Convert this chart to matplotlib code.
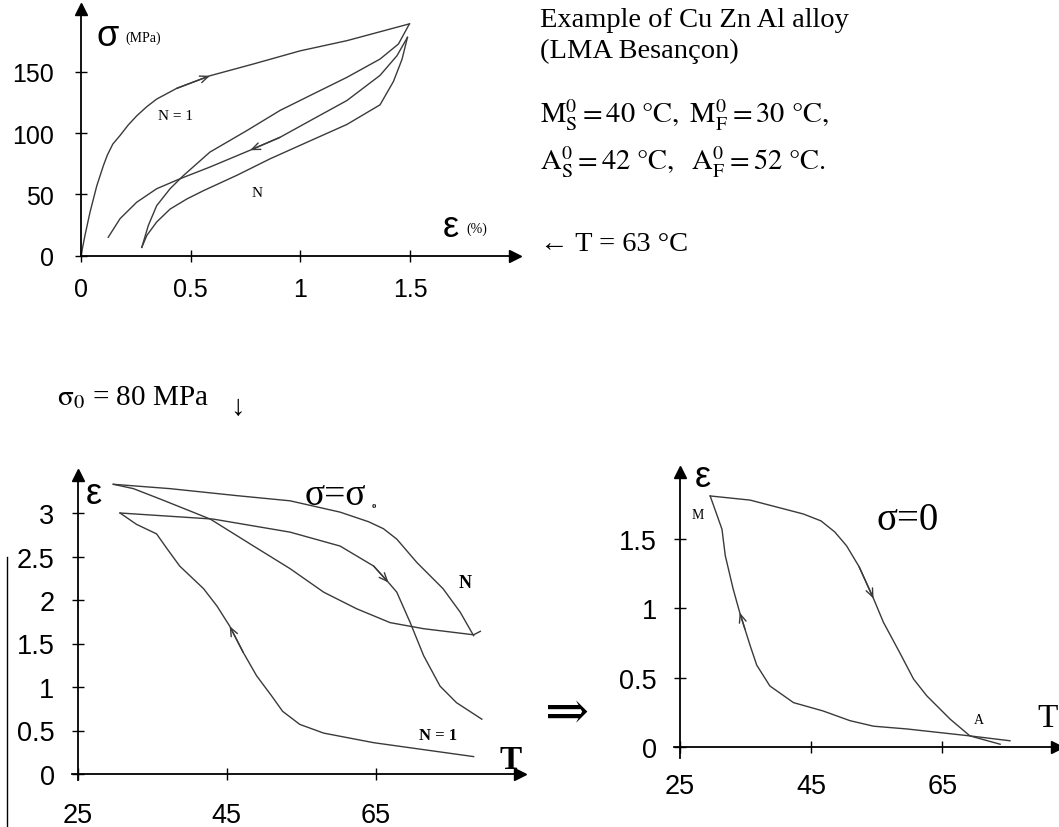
import numpy as np
import matplotlib.pyplot as plt

W, H = 1059, 828
SERIF = ['Liberation Serif', 'DejaVu Serif']
SANS = ['Liberation Sans', 'DejaVu Sans']
plt.rcParams['font.family'] = SANS
plt.rcParams['mathtext.fontset'] = 'stix'

CURVE = '#3a3a3a'

# ---- top chart: sigma (MPa) vs strain (%) at T = 63 C
n1_load_x = [0, 0.018, 0.041, 0.072, 0.102, 0.12, 0.145, 0.178, 0.215, 0.254, 0.3, 0.345, 0.436, 0.588, 0.786, 0.999, 1.212, 1.497]
n1_load_s = [0, 16.5, 35.4, 57, 73.4, 82, 91, 98, 106.5, 114, 121.5, 127.7, 136.4, 146.7, 156.3, 167, 175.3, 189]
n1_unload_x = [1.497, 1.447, 1.363, 1.212, 1.059, 0.907, 0.756, 0.588, 0.466, 0.406, 0.345, 0.307, 0.277]
n1_unload_s = [189, 172.6, 160.3, 145.4, 131.9, 118.4, 102, 84.5, 65.2, 54.6, 40.8, 24.7, 6.8]
n_load_x = [0.277, 0.3, 0.345, 0.406, 0.482, 0.558, 0.71, 0.862, 0.999, 1.212, 1.363, 1.424, 1.463, 1.488]
n_load_s = [6.8, 16.5, 27.5, 38, 46.2, 53, 65.5, 79, 90, 107, 123, 142, 160, 178]
n_unload_x = [1.488, 1.44, 1.363, 1.212, 1.059, 0.907, 0.771, 0.588, 0.451, 0.345, 0.254, 0.178, 0.124]
n_unload_s = [178, 163, 147, 126.5, 111.5, 96.5, 86, 72.3, 62.7, 54.6, 43.6, 30.2, 15]
top_xticks = [0, 0.5, 1, 1.5]
top_xlabels = ['0', '0.5', '1', '1.5']
top_yticks = [0, 50, 100, 150]
top_ylabels = ['0', '50', '100', '150']

# ---- bottom left: strain vs T under sigma = sigma0
bl_n_heat_T = [29.8, 37.4, 46.3, 53.5, 60.2, 64, 66, 67.8, 70.5, 74, 76.3, 78.1]
bl_n_heat_e = [3.33, 3.28, 3.2, 3.14, 3.01, 2.9, 2.82, 2.70, 2.43, 2.13, 1.86, 1.59]
bl_n_cool_T = [79.0, 78.1, 71.4, 66.9, 62.4, 58, 53.5, 48.6, 42.8, 36.1, 32.5, 29.8]
bl_n_cool_e = [1.64, 1.60, 1.67, 1.74, 1.90, 2.09, 2.36, 2.62, 2.93, 3.16, 3.28, 3.33]
bl_1_heat_T = [30.7, 43.2, 53.5, 60.2, 64.7, 66.7, 67.8, 69.6, 71.4, 73.6, 75.8, 79.2]
bl_1_heat_e = [3.0, 2.93, 2.78, 2.62, 2.39, 2.20, 2.09, 1.74, 1.36, 1.01, 0.82, 0.63]
bl_1_cool_T = [78.1, 71.4, 64.7, 58, 54.8, 52.5, 51, 49, 47.2, 45.4, 43.7, 41.9, 38.7, 37, 35.6, 32.9, 30.7]
bl_1_cool_e = [0.2, 0.28, 0.36, 0.47, 0.57, 0.72, 0.9, 1.13, 1.40, 1.70, 1.93, 2.13, 2.39, 2.59, 2.76, 2.87, 3.0]
bl_xticks = [25, 45, 65]
bl_yticks = [0, 0.5, 1, 1.5, 2, 2.5, 3]
bl_ylabels = ['0', '0.5', '1', '1.5', '2', '2.5', '3']

# ---- bottom right: strain vs T under sigma = 0
br_heat_T = [29.6, 35.7, 43.8, 46.5, 48.6, 50.4, 52.3, 54.5, 56, 58.5, 60.6, 62.6, 66.2, 69.2, 73.8]
br_heat_e = [1.81, 1.78, 1.68, 1.63, 1.55, 1.45, 1.30, 1.07, 0.90, 0.68, 0.49, 0.37, 0.20, 0.08, 0.02]
br_cool_T = [75.3, 69.2, 59.6, 54.5, 50.9, 46.8, 42.3, 38.7, 36.7, 35.7, 34.9, 34.1, 33.1, 31.9, 31.4, 29.6]
br_cool_e = [0.045, 0.08, 0.13, 0.15, 0.19, 0.26, 0.32, 0.44, 0.59, 0.73, 0.85, 0.97, 1.14, 1.38, 1.57, 1.81]
br_xticks = [25, 45, 65]
br_yticks = [0, 0.5, 1, 1.5]
br_ylabels = ['0', '0.5', '1', '1.5']

fig = plt.figure(figsize=(W / 100, H / 100), dpi=100)


def make_axes(x0, y0, sx, sy, xlim, ylim, xorig, xpad, ypad, lsize):
    # x0, y0: pixel of data point (xorig, 0); sx, sy: pixels per data unit
    left = x0 + (xlim[0] - xorig) * sx
    right = x0 + (xlim[1] - xorig) * sx
    bottom = y0 - ylim[0] * sy
    top = y0 - ylim[1] * sy
    ax = fig.add_axes([left / W, 1 - bottom / H, (right - left) / W, (bottom - top) / H])
    ax.set_xlim(xlim)
    ax.set_ylim(ylim)
    ax.patch.set_visible(False)
    for s in ['top', 'right']:
        ax.spines[s].set_visible(False)
    ax.spines['left'].set_position(('data', xorig))
    ax.spines['bottom'].set_position(('data', 0))
    for s in ['left', 'bottom']:
        ax.spines[s].set_linewidth(1.3)
    ax.plot(1, 0, '>k', ms=8, transform=ax.get_yaxis_transform(), clip_on=False)
    ax.plot(xorig, 1, '^k', ms=8, transform=ax.get_xaxis_transform(), clip_on=False)
    ax.tick_params(direction='inout', length=9, width=1, labelsize=lsize)
    ax.tick_params(axis='x', pad=xpad)
    ax.tick_params(axis='y', pad=ypad)
    return ax


def curve(ax, x, y, arrow_at=None):
    ax.plot(x, y, color=CURVE, lw=1.0, clip_on=False, solid_joinstyle='round')
    if arrow_at is not None:
        i = arrow_at
        ax.annotate('', xy=(x[i], y[i]), xytext=(x[i - 1], y[i - 1]),
                    arrowprops=dict(arrowstyle='->,head_length=0.6,head_width=0.25',
                                    color=CURVE, lw=1.0, shrinkA=0, shrinkB=0))


def txt(x, y, s, size, family=SERIF, **kw):
    kw.setdefault('va', 'baseline')
    kw.setdefault('ha', 'left')
    fig.text(x / W, 1 - y / H, s, fontsize=size, family=family, **kw)


# top chart
ax1 = make_axes(81, 256.7, 219.4, 1.2267, (0, 1.98), (0, 201), 0, 11, 15, 18)
curve(ax1, n1_load_x, n1_load_s, arrow_at=13)
curve(ax1, n1_unload_x, n1_unload_s)
curve(ax1, n_load_x, n_load_s)
curve(ax1, n_unload_x, n_unload_s, arrow_at=6)
ax1.set_xticks(top_xticks)
ax1.set_xticklabels(top_xlabels)
ax1.set_yticks(top_yticks)
ax1.set_yticklabels(top_ylabels)

# bottom left chart
ax2 = make_axes(77.5, 775, 7.46, 87, (24.2, 84.3), (-0.07, 3.44), 25, 15.5, 12, 19.5)
curve(ax2, bl_n_heat_T, bl_n_heat_e)
curve(ax2, bl_n_cool_T, bl_n_cool_e)
curve(ax2, bl_1_heat_T, bl_1_heat_e, arrow_at=5)
curve(ax2, bl_1_cool_T, bl_1_cool_e, arrow_at=9)
ax2.set_xticks(bl_xticks)
ax2.set_yticks(bl_yticks)
ax2.set_yticklabels(bl_ylabels)

# bottom right chart
ax3 = make_axes(680, 748, 6.56, 138.7, (24.1, 82.4), (-0.08, 1.98), 25, 14.5, 12, 19.5)
curve(ax3, br_heat_T, br_heat_e, arrow_at=7)
curve(ax3, br_cool_T, br_cool_e, arrow_at=11)
ax3.set_xticks(br_xticks)
ax3.set_yticks(br_yticks)
ax3.set_yticklabels(br_ylabels)

# annotations, top
txt(97, 46, 'σ', 26, SANS)
txt(125, 42, '(MPa)', 10)
txt(158, 120, 'N = 1', 11)
txt(252, 197, 'N', 11)
txt(443, 237, 'ε', 26, SANS)
txt(466, 233, '(%)', 10)

txt(540, 27, 'Example of Cu Zn Al alloy', 20.5)
txt(540, 58, '(LMA Besançon)', 20.5)
txt(540, 123, r'$\mathrm{M_S^0 = 40\ °C,\ M_F^0 = 30\ °C,}$', 20.5)
txt(540, 170, r'$\mathrm{A_S^0 = 42\ °C,\ \ A_F^0 = 52\ °C.}$', 20.5)
txt(540, 251, '← T = 63 °C', 20.5)

txt(57, 405, r'$\mathrm{\sigma_0}$ = 80 MPa', 21)
txt(237, 408, '↓', 21, ha='center', va='center')

# annotations, bottom left
txt(86, 504, 'ε', 26, SANS)
txt(305, 505, 'σ=σ', 27)
txt(372, 508, 'o', 6, weight='bold')
txt(459, 588, 'N', 13, weight='bold')
txt(419, 740, 'N = 1', 12, weight='bold')
txt(500, 769, 'T', 24, weight='bold')

# annotations, bottom right
txt(695, 487, 'ε', 26, SANS)
txt(692, 519, 'M', 10)
txt(876, 530, 'σ=0', 28)
txt(974, 724, 'A', 10)
txt(1037, 727, 'T', 24)
txt(545, 716, '⇒', 38, ha='left', va='center')

# scan edge line on the left
fig.add_artist(plt.Line2D([7 / W, 7 / W], [1 - 558 / H, 0], color='black', lw=1.0))

fig.savefig('out.png', dpi=100)
